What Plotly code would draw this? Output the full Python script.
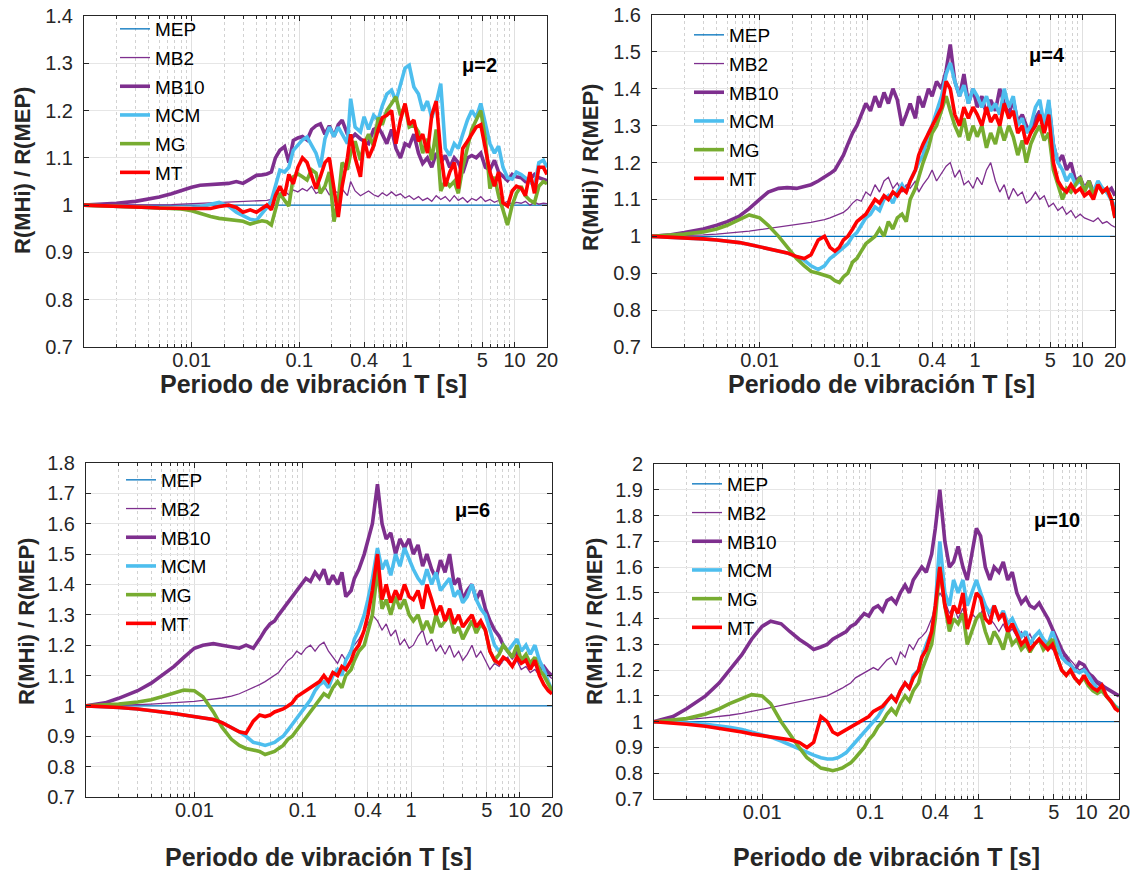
import math
import plotly.graph_objects as go

# ---------------- data ----------------
T = [0.001, 0.0015, 0.002, 0.003, 0.004, 0.005, 0.0065, 0.008, 0.01, 0.012,
     0.015, 0.018, 0.022, 0.026, 0.03, 0.035, 0.04, 0.045, 0.05, 0.055,
     0.06, 0.066, 0.073, 0.08, 0.088, 0.097, 0.107, 0.118, 0.13, 0.143,
     0.157, 0.173, 0.19, 0.21, 0.23, 0.25, 0.28, 0.3, 0.33, 0.37,
     0.4, 0.44, 0.49, 0.54, 0.59, 0.65, 0.72, 0.79, 0.87, 0.96,
     1.05, 1.16, 1.28, 1.4, 1.55, 1.7, 1.87, 2.06, 2.27, 2.5,
     2.75, 3.0, 3.3, 3.65, 4.0, 4.4, 4.85, 5.35, 5.9, 6.5,
     7.1, 7.8, 8.6, 9.5, 10.4, 11.5, 12.6, 13.9, 15.3, 16.8,
     18.5, 20]

T_MEP = [0.001, 20]
MEP = [1.0, 1.0]

# mu = 2
MU2_MB2 = [1.0, 1.0, 1.0, 1.0, 1.0, 1.0, 1.001, 1.002, 1.003, 1.004,
           1.005, 1.006, 1.007, 1.007, 1.008, 1.008, 1.009, 1.01, 1.01, 1.012,
           1.02, 1.025, 1.03, 1.022, 1.032, 1.028, 1.035, 1.03, 1.04, 1.025,
           1.03, 1.038, 1.022, 1.03, 1.026, 1.034, 1.02, 1.05, 1.03, 1.02,
           1.025, 1.03, 1.022, 1.018, 1.026, 1.02, 1.028, 1.02, 1.024, 1.015,
           1.02, 1.012, 1.018, 1.01, 1.015, 1.008, 1.02, 1.012, 1.018, 1.008,
           1.02, 1.01, 1.016, 1.006, 1.014, 1.01, 1.018, 1.008, 1.012, 1.006,
           1.01, 1.004, 1.008, 1.002, 1.006, 1.004, 1.008, 1.0, 1.006, 1.002,
           1.004, 1.003]
MU2_MB10 = [1.0, 1.002, 1.004, 1.008, 1.012, 1.017, 1.024, 1.031, 1.038, 1.042,
            1.043, 1.044, 1.046, 1.05, 1.046, 1.055, 1.063, 1.064, 1.066, 1.07,
            1.1, 1.116, 1.124, 1.09, 1.137, 1.142, 1.145, 1.138, 1.16, 1.168,
            1.172, 1.15, 1.168, 1.145, 1.17, 1.18, 1.15, 1.14, 1.15, 1.14,
            1.135, 1.13, 1.16, 1.165, 1.15, 1.13, 1.16, 1.12, 1.1, 1.13,
            1.125, 1.15, 1.11, 1.088, 1.1, 1.08, 1.11, 1.09, 1.105, 1.08,
            1.1, 1.09, 1.068, 1.1, 1.105, 1.1, 1.11, 1.08, 1.075, 1.095,
            1.07, 1.06, 1.052, 1.065, 1.06, 1.058, 1.05, 1.055, 1.065, 1.058,
            1.055, 1.052]
MU2_MCM = [1.0, 0.999, 0.998, 0.996, 0.995, 0.994, 0.993, 0.993, 0.994, 0.996,
           1.002, 1.006, 0.998, 0.985, 0.978, 0.97, 0.968, 0.982, 0.995, 1.01,
           1.04, 1.074, 1.07, 1.08, 1.116, 1.128, 1.138, 1.144, 1.125, 1.11,
           1.08, 1.14, 1.165, 1.145, 1.165, 1.15, 1.13, 1.225, 1.165, 1.155,
           1.187, 1.16, 1.19, 1.18, 1.21, 1.235, 1.243, 1.22, 1.258, 1.29,
           1.296, 1.25, 1.235, 1.2, 1.22, 1.185, 1.215, 1.257, 1.12, 1.105,
           1.13, 1.12, 1.15, 1.18, 1.2, 1.185, 1.215, 1.17, 1.13, 1.11,
           1.125, 1.08, 1.058, 1.055, 1.07, 1.065, 1.058, 1.05, 1.04, 1.09,
           1.095, 1.08]
MU2_MG = [1.0, 0.999, 0.998, 0.996, 0.995, 0.994, 0.993, 0.992, 0.988, 0.982,
          0.976, 0.972, 0.969, 0.968, 0.966, 0.96, 0.963, 0.967, 0.965, 0.958,
          0.99, 1.025, 1.01, 0.998, 1.06, 1.066, 1.06, 1.053, 1.075, 1.068,
          1.025, 1.04, 1.07, 0.965, 1.01, 1.09, 1.075, 1.11, 1.135, 1.095,
          1.13, 1.15, 1.125, 1.185, 1.17, 1.2, 1.215, 1.229, 1.19, 1.21,
          1.165, 1.17, 1.155, 1.11, 1.14, 1.095, 1.16, 1.03, 1.052, 1.04,
          1.05, 1.025, 1.08, 1.12, 1.16, 1.18, 1.2, 1.14, 1.035, 1.06,
          1.02, 0.99, 0.958, 1.0, 1.025, 1.04, 1.02, 1.01, 1.005, 1.04,
          1.05, 1.045]
MU2_MT = [1.0, 0.999, 0.998, 0.996, 0.995, 0.994, 0.993, 0.993, 0.993, 0.993,
          0.993, 0.997, 1.0, 0.995, 0.985, 0.99, 0.985, 0.993, 1.0, 0.99,
          1.02, 1.04, 1.02, 1.065, 1.045, 1.08, 1.1, 1.09, 1.06, 1.035,
          1.06, 1.09, 1.1, 1.04, 0.975, 1.04, 1.1, 1.15, 1.1, 1.06,
          1.14, 1.1, 1.125, 1.16, 1.185, 1.19, 1.2, 1.13, 1.18, 1.215,
          1.17, 1.18, 1.135, 1.15, 1.11, 1.19, 1.22, 1.11, 1.04, 1.07,
          1.09, 1.035, 1.12, 1.135, 1.15, 1.165, 1.17, 1.115, 1.07, 1.04,
          1.07, 1.005, 0.998, 1.03, 1.04, 1.036, 1.02, 1.07, 1.025, 1.08,
          1.08, 1.065]

# mu = 4
MU4_MB2 = [1.0, 1.001, 1.002, 1.004, 1.006, 1.008, 1.011, 1.014, 1.018, 1.021,
           1.025, 1.028, 1.032, 1.035, 1.038, 1.042, 1.045, 1.05, 1.055, 1.06,
           1.065, 1.075, 1.09, 1.1, 1.095, 1.12, 1.11, 1.14, 1.12, 1.15,
           1.16, 1.13, 1.145, 1.12, 1.14, 1.13, 1.15, 1.12, 1.14, 1.16,
           1.18, 1.15, 1.17, 1.19, 1.2, 1.16, 1.18, 1.14, 1.15, 1.13,
           1.16, 1.14, 1.18, 1.2, 1.15, 1.12, 1.14, 1.1, 1.13, 1.11,
           1.12, 1.09, 1.1, 1.12, 1.1, 1.11, 1.08, 1.09, 1.07, 1.08,
           1.06, 1.07, 1.05, 1.06, 1.05, 1.045, 1.04, 1.05, 1.035, 1.04,
           1.03, 1.025]
MU4_MB10 = [1.0, 1.004, 1.01, 1.02, 1.03, 1.04, 1.055, 1.075, 1.1, 1.12,
            1.13, 1.132, 1.13, 1.135, 1.14, 1.15, 1.16, 1.17, 1.18, 1.2,
            1.22, 1.25, 1.28, 1.3, 1.33, 1.36, 1.34, 1.38, 1.35, 1.39,
            1.36, 1.4, 1.37, 1.3, 1.33, 1.36, 1.32, 1.38, 1.35, 1.4,
            1.38, 1.42, 1.4, 1.45, 1.52, 1.42, 1.38, 1.44, 1.36, 1.4,
            1.35, 1.38, 1.33, 1.37, 1.34, 1.4, 1.36, 1.33, 1.37, 1.31,
            1.33, 1.3, 1.28, 1.32, 1.34, 1.3, 1.36, 1.25, 1.2, 1.22,
            1.18, 1.2, 1.15, 1.16, 1.13, 1.15, 1.12, 1.14, 1.13, 1.12,
            1.13, 1.11]
MU4_MCM = [1.0, 0.998, 0.996, 0.993, 0.99, 0.987, 0.983, 0.978, 0.972, 0.966,
           0.96, 0.955, 0.945, 0.935, 0.92, 0.91, 0.92, 0.94, 0.95, 0.96,
           0.97, 0.98, 1.0, 1.01, 1.03, 1.05, 1.06, 1.08, 1.07, 1.1,
           1.11, 1.09, 1.12, 1.14, 1.12, 1.15, 1.18, 1.2, 1.22, 1.28,
           1.3, 1.34, 1.38, 1.44, 1.47, 1.42, 1.38, 1.41, 1.36, 1.4,
           1.38, 1.35, 1.38, 1.34, 1.36, 1.33, 1.4, 1.35, 1.38, 1.3,
           1.32, 1.28, 1.3, 1.35, 1.37, 1.3, 1.37, 1.25, 1.2, 1.18,
           1.15, 1.17, 1.14, 1.15, 1.13, 1.14, 1.12, 1.15, 1.13, 1.12,
           1.1, 1.08]
MU4_MG = [1.0, 1.003, 1.006, 1.012, 1.02, 1.03, 1.045, 1.058, 1.05, 1.03,
          1.0, 0.97, 0.94, 0.92, 0.905, 0.9, 0.895, 0.89, 0.88, 0.875,
          0.89, 0.9, 0.93, 0.94, 0.96, 0.98, 0.99, 1.0, 1.02, 1.0,
          1.04, 1.02, 1.05, 1.06, 1.04, 1.1, 1.13, 1.16, 1.2, 1.24,
          1.28, 1.3, 1.34, 1.38, 1.34, 1.3, 1.27, 1.32, 1.26, 1.3,
          1.27, 1.3, 1.24, 1.28, 1.25, 1.3, 1.26, 1.3, 1.27, 1.22,
          1.26, 1.2, 1.25, 1.28, 1.3, 1.26, 1.28, 1.18, 1.14, 1.1,
          1.13, 1.12, 1.14, 1.16, 1.12, 1.15, 1.11, 1.14, 1.12, 1.13,
          1.1, 1.05]
MU4_MT = [1.0, 0.998, 0.996, 0.993, 0.99, 0.987, 0.983, 0.978, 0.972, 0.966,
          0.96, 0.955, 0.945, 0.94, 0.95, 0.99, 1.0, 0.97, 0.96, 0.97,
          0.99, 1.0, 1.02, 1.04, 1.05, 1.06, 1.08, 1.1, 1.09, 1.11,
          1.1, 1.12, 1.11, 1.13, 1.12, 1.15, 1.18, 1.22, 1.25, 1.28,
          1.3, 1.32, 1.35, 1.42, 1.4, 1.33, 1.3, 1.35, 1.32, 1.35,
          1.33, 1.3, 1.35, 1.31, 1.33, 1.3, 1.36, 1.32, 1.34, 1.28,
          1.3, 1.25, 1.28, 1.3, 1.33, 1.28, 1.33, 1.2, 1.15, 1.13,
          1.12, 1.14, 1.12, 1.13, 1.11, 1.12, 1.1, 1.14, 1.12, 1.13,
          1.1, 1.05]

# mu = 6
MU6_MB2 = [1.0, 1.001, 1.002, 1.004, 1.006, 1.008, 1.01, 1.012, 1.015, 1.018,
           1.022, 1.026, 1.032, 1.04, 1.05, 1.06, 1.07, 1.08, 1.09, 1.1,
           1.11, 1.13, 1.15, 1.16, 1.18, 1.17, 1.19, 1.2, 1.18, 1.2,
           1.21, 1.18, 1.16, 1.14, 1.17, 1.15, 1.19, 1.2, 1.22, 1.25,
           1.27, 1.3, 1.28, 1.25, 1.27, 1.23, 1.25, 1.2, 1.22, 1.19,
           1.2, 1.23, 1.25, 1.2, 1.22, 1.18, 1.2, 1.17, 1.2, 1.16,
           1.18, 1.15, 1.17, 1.2, 1.16, 1.18, 1.15, 1.12, 1.14, 1.13,
           1.15, 1.16, 1.13, 1.15, 1.12, 1.13, 1.11, 1.12, 1.1, 1.11,
           1.1, 1.09]
MU6_MB10 = [1.0, 1.01, 1.025, 1.05, 1.075, 1.1, 1.13, 1.16, 1.19, 1.2,
            1.205, 1.2, 1.195, 1.19, 1.2, 1.19, 1.22, 1.25, 1.27, 1.28,
            1.3, 1.32, 1.34, 1.36, 1.38, 1.4, 1.42, 1.41, 1.44, 1.42,
            1.45, 1.4, 1.43, 1.4, 1.44, 1.36, 1.38, 1.42, 1.45, 1.5,
            1.55, 1.6, 1.73, 1.6, 1.55, 1.57, 1.5, 1.55, 1.52, 1.55,
            1.5, 1.53, 1.46, 1.5, 1.45, 1.42, 1.48, 1.44, 1.5, 1.4,
            1.42, 1.35, 1.38, 1.4, 1.35, 1.38, 1.32, 1.28, 1.25, 1.23,
            1.2, 1.18, 1.16, 1.18, 1.15, 1.16, 1.13, 1.14, 1.12, 1.13,
            1.11, 1.1]
MU6_MCM = [1.0, 0.998, 0.995, 0.99, 0.985, 0.98, 0.975, 0.97, 0.965, 0.96,
           0.955, 0.945, 0.93, 0.915, 0.9, 0.88, 0.875, 0.87, 0.875, 0.88,
           0.89, 0.9, 0.92, 0.94, 0.96, 0.98, 1.0, 1.02, 1.05, 1.07,
           1.08, 1.06, 1.1, 1.12, 1.1, 1.15, 1.18, 1.22, 1.25, 1.3,
           1.35, 1.42, 1.52, 1.45, 1.48, 1.43, 1.5, 1.46, 1.52, 1.48,
           1.45, 1.42, 1.4, 1.45, 1.4, 1.44, 1.38, 1.4, 1.42, 1.36,
           1.38, 1.34, 1.36, 1.4, 1.35, 1.32, 1.3, 1.25, 1.2, 1.18,
           1.2, 1.18, 1.2, 1.22, 1.18, 1.2, 1.17, 1.2, 1.15, 1.12,
           1.08, 1.05]
MU6_MG = [1.0, 1.003, 1.006, 1.013, 1.02, 1.03, 1.042, 1.052, 1.05, 1.03,
          0.98, 0.93, 0.89, 0.87, 0.86, 0.855, 0.85, 0.84, 0.845, 0.85,
          0.86, 0.87, 0.89, 0.9, 0.92, 0.94, 0.96, 0.98, 1.0, 1.02,
          1.04, 1.03, 1.06, 1.08, 1.06, 1.1, 1.12, 1.15, 1.18, 1.2,
          1.25, 1.3, 1.45, 1.32, 1.35, 1.3, 1.36, 1.32, 1.35, 1.3,
          1.28, 1.3, 1.25, 1.28, 1.24, 1.3, 1.26, 1.28, 1.3, 1.24,
          1.26, 1.22, 1.25, 1.28, 1.24, 1.27, 1.25, 1.18, 1.15, 1.17,
          1.2, 1.18, 1.16, 1.2, 1.15, 1.17, 1.14, 1.16, 1.12, 1.1,
          1.07, 1.05]
MU6_MT = [1.0, 0.998, 0.995, 0.99, 0.985, 0.98, 0.975, 0.97, 0.965, 0.96,
          0.955, 0.945, 0.93, 0.915, 0.91, 0.95, 0.97, 0.965, 0.97, 0.98,
          0.985, 0.99, 1.0, 1.01, 1.03, 1.04, 1.05, 1.06, 1.07, 1.08,
          1.1, 1.08, 1.11, 1.1, 1.13, 1.12, 1.15, 1.18, 1.2, 1.25,
          1.3, 1.38, 1.5, 1.35, 1.4, 1.34, 1.38, 1.35, 1.4, 1.36,
          1.35, 1.38, 1.32, 1.4, 1.35, 1.3, 1.33, 1.28, 1.32, 1.27,
          1.3, 1.26, 1.28, 1.3, 1.26, 1.28, 1.25, 1.18, 1.15, 1.14,
          1.16, 1.15, 1.13, 1.16, 1.14, 1.15, 1.12, 1.15, 1.1, 1.07,
          1.05, 1.04]

# mu = 10
MU10_MB2 = [1.0, 1.004, 1.008, 1.015, 1.02, 1.025, 1.032, 1.04, 1.048, 1.055,
            1.065, 1.072, 1.08, 1.085, 1.09, 1.095, 1.1, 1.11, 1.12, 1.13,
            1.14, 1.15, 1.17, 1.18, 1.19, 1.2, 1.21, 1.2, 1.22, 1.24,
            1.25, 1.22, 1.27, 1.25, 1.3, 1.28, 1.32, 1.33, 1.35, 1.4,
            1.45, 1.5, 1.47, 1.42, 1.45, 1.4, 1.44, 1.38, 1.42, 1.4,
            1.42, 1.45, 1.4, 1.38, 1.35, 1.38, 1.34, 1.36, 1.33, 1.35,
            1.32, 1.34, 1.3, 1.32, 1.29, 1.3, 1.28, 1.27, 1.25, 1.26,
            1.24, 1.22, 1.2, 1.21, 1.19, 1.18, 1.16, 1.15, 1.13, 1.12,
            1.11, 1.1]
MU10_MB10 = [1.0, 1.02, 1.05, 1.1, 1.15, 1.2, 1.26, 1.32, 1.37, 1.39,
             1.38, 1.35, 1.32, 1.3, 1.28, 1.29, 1.3, 1.32, 1.33, 1.34,
             1.35, 1.37, 1.38, 1.4, 1.42, 1.41, 1.44, 1.45, 1.43, 1.47,
             1.48, 1.46, 1.5, 1.53, 1.5, 1.55, 1.58, 1.6, 1.58, 1.65,
             1.75, 1.9, 1.7, 1.6, 1.62, 1.68, 1.6, 1.55, 1.65, 1.75,
             1.72, 1.6, 1.55, 1.6, 1.58, 1.62, 1.55, 1.58, 1.5, 1.46,
             1.48, 1.45, 1.44, 1.46, 1.43, 1.4, 1.36, 1.32, 1.28, 1.25,
             1.22, 1.2, 1.23, 1.22, 1.19, 1.17, 1.15, 1.14, 1.13, 1.12,
             1.11, 1.1]
MU10_MCM = [1.0, 0.998, 0.995, 0.99, 0.985, 0.978, 0.97, 0.96, 0.95, 0.94,
            0.925, 0.91, 0.895, 0.88, 0.87, 0.86, 0.855, 0.855, 0.86, 0.87,
            0.88, 0.9, 0.92, 0.94, 0.96, 0.98, 1.0, 1.02, 1.05, 1.08,
            1.1, 1.08, 1.12, 1.15, 1.13, 1.18, 1.2, 1.25, 1.3, 1.35,
            1.45, 1.7, 1.5, 1.45, 1.55, 1.5, 1.55, 1.45, 1.5, 1.55,
            1.5, 1.45, 1.42, 1.45, 1.4, 1.43, 1.38, 1.4, 1.36, 1.33,
            1.35, 1.3, 1.33, 1.35, 1.32, 1.3, 1.35, 1.3, 1.25, 1.23,
            1.22, 1.2, 1.19, 1.2, 1.18, 1.15, 1.13, 1.12, 1.1, 1.08,
            1.06, 1.05]
MU10_MG = [1.0, 1.005, 1.012, 1.03, 1.05, 1.07, 1.09, 1.105, 1.1, 1.07,
           1.0, 0.95, 0.9, 0.86, 0.84, 0.82, 0.815, 0.81, 0.815, 0.82,
           0.83, 0.84, 0.86, 0.88, 0.9, 0.93, 0.95, 0.98, 1.0, 1.03,
           1.05, 1.03, 1.07, 1.1, 1.08, 1.12, 1.15, 1.2, 1.25, 1.3,
           1.4, 1.6, 1.45, 1.35, 1.4, 1.38, 1.42, 1.3, 1.35, 1.4,
           1.42, 1.35, 1.3, 1.35, 1.32, 1.28, 1.35, 1.3, 1.32, 1.28,
           1.3, 1.27, 1.3, 1.32, 1.28, 1.3, 1.32, 1.25, 1.2, 1.18,
           1.2, 1.17, 1.15, 1.17, 1.14, 1.12, 1.11, 1.12, 1.1, 1.08,
           1.06, 1.04]
MU10_MT = [1.0, 0.995, 0.99, 0.982, 0.975, 0.968, 0.96, 0.952, 0.945, 0.94,
           0.935, 0.93, 0.92, 0.9, 0.92, 1.02, 1.0, 0.96, 0.95, 0.96,
           0.97, 0.98, 0.99, 1.0, 1.01, 1.02, 1.04, 1.05, 1.06, 1.08,
           1.1, 1.08, 1.12, 1.15, 1.13, 1.17, 1.2, 1.25, 1.28, 1.35,
           1.45, 1.6, 1.45, 1.38, 1.45, 1.42, 1.5, 1.36, 1.42, 1.5,
           1.48, 1.4, 1.38, 1.45, 1.4, 1.42, 1.35, 1.38, 1.34, 1.3,
           1.32, 1.28, 1.3, 1.32, 1.3, 1.28, 1.3, 1.25, 1.2, 1.18,
           1.2, 1.17, 1.15, 1.18, 1.15, 1.13, 1.12, 1.14, 1.1, 1.08,
           1.05, 1.04]

SERIES_NAMES = ["MEP", "MB2", "MB10", "MCM", "MG", "MT"]
MU_LABELS = ["μ=2", "μ=4", "μ=6", "μ=10"]
Y_MAX = [1.4, 1.6, 1.8, 2.0]
X_TICKS = [0.01, 0.1, 0.4, 1, 5, 10, 20]
X_TICK_TEXT = ["0.01", "0.1", "0.4", "1", "5", "10", "20"]

PANELS = [
    [MU2_MB2, MU2_MB10, MU2_MCM, MU2_MG, MU2_MT],
    [MU4_MB2, MU4_MB10, MU4_MCM, MU4_MG, MU4_MT],
    [MU6_MB2, MU6_MB10, MU6_MCM, MU6_MG, MU6_MT],
    [MU10_MB2, MU10_MB10, MU10_MCM, MU10_MG, MU10_MT],
]
for p in PANELS:
    for s in p:
        assert len(s) == len(T), len(s)

# ---------------- styling / layout ----------------
W, H = 1137, 870
FONT = "Liberation Sans, Arial, sans-serif"
AX = "#262626"
STYLES = [("#0072BD", 1.3), ("#7E2F8E", 1.3), ("#7E2F8E", 3.6),
          ("#4DBEEE", 3.6), ("#77AC30", 3.6), ("#FF0000", 3.6)]

# panel boxes in pixels: left, right, top, bottom
BOX = [(84, 547, 16, 347), (652, 1115, 15, 347),
       (86, 552, 463, 797), (654, 1119, 464, 799)]
MU_POS = [(479, 65), (1047, 55), (472, 510), (1057, 520)]
YT_POS = [(22, 171), (591, 168), (26, 622), (594, 622)]
# x-title: (center x, bottom y of text box)
XT_POS = [(313, 400), (882, 400), (318, 873), (886, 873)]
# legend top-left corner (pixels)
LEG_POS = [(115, 10), (689, 16), (121, 461), (687, 465)]

MINOR = [m * 10 ** k for k in range(-3, 1) for m in range(2, 10)]
MINOR = [v for v in MINOR if abs(v - 0.4) > 1e-9 and abs(v - 5) > 1e-9]


def px(x):
    return x / W


def py(y):
    return 1 - y / H


fig = go.Figure()
layout = dict(width=W, height=H, margin=dict(l=0, r=0, t=0, b=0, pad=0, autoexpand=False),
              paper_bgcolor="white", plot_bgcolor="white", template="none",
              font=dict(family=FONT, color=AX), showlegend=True)
annotations = []

for i, series in enumerate(PANELS):
    n = "" if i == 0 else str(i + 1)
    xa, ya = "x" + n, "y" + n
    lg = "legend" + n
    l, r, t, b = BOX[i]
    layout["xaxis" + n] = dict(
        type="log", range=[-3, math.log10(20)], domain=[px(l), px(r)], anchor=ya,
        automargin=False,
        tickmode="array", tickvals=X_TICKS, ticktext=X_TICK_TEXT,
        ticks="inside", ticklen=5, tickcolor=AX, showline=True, linecolor=AX,
        linewidth=1, mirror="ticks", showgrid=True, gridcolor="#e0e0e0",
        gridwidth=1, zeroline=False,
        tickfont=dict(family=FONT, size=20, color=AX), ticklabelstandoff=-5,
        minor=dict(tickmode="array", tickvals=MINOR, ticks="inside", ticklen=3,
                   tickcolor=AX, showgrid=True, gridcolor="#d2d2d2",
                   griddash="dot", gridwidth=1))
    layout["yaxis" + n] = dict(
        range=[0.7, Y_MAX[i]], domain=[py(b), py(t)], anchor=xa,
        automargin=False,
        tick0=0.7, dtick=0.1, ticks="inside", ticklen=5, tickcolor=AX,
        showline=True, linecolor=AX, linewidth=1, mirror="ticks",
        showgrid=True, gridcolor="#e6e6e6", zeroline=False,
        tickfont=dict(family=FONT, size=20, color=AX), ticklabelstandoff=6)
    lx, ly = LEG_POS[i]
    layout[lg] = dict(x=px(lx), y=py(ly), xanchor="left", yanchor="top",
                      bgcolor="rgba(0,0,0,0)", borderwidth=0,
                      font=dict(family=FONT, size=19, color="#000000"),
                      tracegroupgap=1)

    fig.add_trace(go.Scatter(x=T_MEP, y=MEP, mode="lines", name=SERIES_NAMES[0],
                             line=dict(color=STYLES[0][0], width=STYLES[0][1]),
                             xaxis=xa, yaxis=ya, legend=lg,
                             legendgroup=f"p{i}s0"))
    for j, vals in enumerate(series, start=1):
        fig.add_trace(go.Scatter(x=T, y=vals, mode="lines", name=SERIES_NAMES[j],
                                 line=dict(color=STYLES[j][0], width=STYLES[j][1]),
                                 xaxis=xa, yaxis=ya, legend=lg,
                                 legendgroup=f"p{i}s{j}"))

    mx, my = MU_POS[i]
    annotations.append(dict(text="<b>" + MU_LABELS[i] + "</b>", x=px(mx), y=py(my),
                            xref="paper", yref="paper", showarrow=False,
                            font=dict(family=FONT, size=20, color="#000000"),
                            xanchor="center", yanchor="middle"))
    tx, ty = YT_POS[i]
    annotations.append(dict(text="<b>R(MHi) / R(MEP)</b>", x=px(tx), y=py(ty),
                            xref="paper", yref="paper", showarrow=False, textangle=-90,
                            font=dict(family=FONT, size=22, color=AX),
                            xanchor="center", yanchor="middle"))
    tx, ty = XT_POS[i]
    annotations.append(dict(text="<b>Periodo de vibración T [s]</b>", x=px(tx), y=py(ty),
                            xref="paper", yref="paper", showarrow=False,
                            font=dict(family=FONT, size=25, color=AX),
                            xanchor="center", yanchor="bottom"))

layout["annotations"] = annotations
fig.update_layout(**layout)
fig.write_html("out.html")
